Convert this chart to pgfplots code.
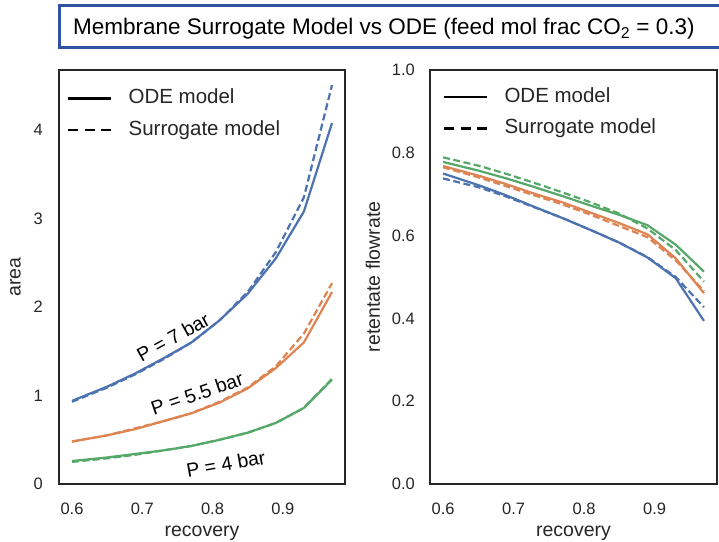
\documentclass[border=0pt]{standalone}
\usepackage{pgfplots}
\pgfplotsset{compat=1.18}
\usepackage{fontspec}
\setmainfont{Liberation Sans}
\definecolor{sbblue}{RGB}{76,114,176}
\definecolor{sborange}{RGB}{221,132,82}
\definecolor{sbgreen}{RGB}{85,168,104}
\definecolor{titleblue}{RGB}{47,82,163}
\definecolor{framec}{RGB}{38,38,38}
\newcommand\tickfont{\fontsize{16.5}{19}\selectfont}
\newcommand\labfont{\fontsize{19.5}{23}\selectfont}
\newcommand\legfont{\fontsize{20.5}{24}\selectfont}
\newcommand\annfont{\fontsize{19.5}{23}\selectfont}
\newcommand\titlefont{\fontsize{22.5}{26}\selectfont}
\pgfplotsset{
  myaxis/.style={
    scale only axis, anchor=south west,
    height=414pt,
    xmin=0.5815, xmax=0.9885,
    xtick={0.6,0.7,0.8,0.9},
    axis line style={draw=framec, line width=1.4pt},
    tick style={draw=none},
    /pgf/number format/assume math mode=true,
    ticklabel style={font=\tickfont, text=framec},
    x tick label style={anchor=base, yshift=-30pt, /pgf/number format/.cd, fixed, fixed zerofill, precision=1, /tikz/.cd},
    y tick label style={anchor=east, inner sep=0pt},
    xlabel={recovery},
    every axis x label/.style={at={(axis description cs:0.5,-0.128)}, anchor=base, font=\labfont, text=framec},
    legend image code/.code={\draw[#1] (0pt,0pt) -- (43pt,0pt);},
    legend style={draw=none, fill=none, font=\legfont, text=framec, anchor=north west,
      inner sep=0pt, row sep=8pt,
      nodes={inner sep=2pt, text height=15pt, text depth=4.5pt},
      /tikz/every odd column/.append style={column sep=14pt}},
    legend cell align=left,
  },
  ode/.style={line width=2.2pt, solid},
  sur/.style={line width=2.2pt, dash pattern=on 7pt off 3.5pt},
  legsur/.style={line width=2.4pt, dash pattern=on 10pt off 6.5pt},
}
\pgfplotstableread{
x     bode bsur oode osur gode gsur
0.60  0.94 0.93 0.48 0.48 0.26 0.25
0.65  1.10 1.09 0.55 0.55 0.30 0.29
0.69  1.25 1.24 0.62 0.63 0.34 0.33
0.73  1.42 1.41 0.71 0.71 0.38 0.38
0.77  1.60 1.60 0.80 0.80 0.43 0.43
0.81  1.85 1.85 0.92 0.93 0.50 0.50
0.85  2.15 2.17 1.08 1.09 0.58 0.58
0.89  2.55 2.62 1.31 1.33 0.69 0.69
0.93  3.08 3.24 1.60 1.70 0.86 0.86
0.97  4.08 4.51 2.17 2.27 1.18 1.19
}\areatab
\pgfplotstableread{
x     bode  bsur  oode  osur  gode  gsur
0.60  0.750 0.738 0.768 0.765 0.778 0.789
0.65  0.722 0.717 0.745 0.741 0.757 0.769
0.69  0.697 0.694 0.724 0.719 0.738 0.749
0.73  0.669 0.668 0.701 0.697 0.717 0.727
0.77  0.642 0.642 0.680 0.675 0.695 0.704
0.81  0.613 0.613 0.655 0.650 0.672 0.680
0.85  0.583 0.583 0.630 0.623 0.650 0.653
0.89  0.547 0.548 0.603 0.596 0.625 0.617
0.93  0.497 0.500 0.545 0.540 0.578 0.565
0.97  0.394 0.427 0.461 0.466 0.513 0.489
}\flowtab
\begin{document}
\begin{tikzpicture}
\useasboundingbox (0pt,0pt) rectangle (719pt,541pt);
% title box
\draw[titleblue, line width=3.3pt] (59.3pt,535.3pt) rectangle (760pt,493.7pt);
\node[anchor=base west, inner sep=0pt, font=\titlefont, text=black] at (73pt,506.7pt)
  {Membrane Surrogate Model vs ODE (feed mol frac CO\textsubscript{2} = 0.3)};
% left axis
\begin{axis}[myaxis, at={(59pt,57pt)}, width=286pt,
  ymin=0, ymax=4.68, ytick={0,1,2,3,4},
  y tick label style={xshift=-16pt},
  ylabel={area},
  every axis y label/.style={at={(axis description cs:-0.152,0.5)}, rotate=90, anchor=center, font=\labfont, text=framec},
  legend style={at={(axis description cs:0.028,0.96)}},
]
\addlegendimage{black, line width=2.4pt, solid}\addlegendentry{ODE model}
\addlegendimage{black, legsur}\addlegendentry{Surrogate model}
\addplot[sbblue, ode, forget plot] table[x=x, y=bode] {\areatab};
\addplot[sbblue, sur, forget plot] table[x=x, y=bsur] {\areatab};
\addplot[sborange, ode, forget plot] table[x=x, y=oode] {\areatab};
\addplot[sborange, sur, forget plot] table[x=x, y=osur] {\areatab};
\addplot[sbgreen, ode, forget plot] table[x=x, y=gode] {\areatab};
\addplot[sbgreen, sur, forget plot] table[x=x, y=gsur] {\areatab};
\node[rotate=29, font=\annfont, text=black, inner sep=0pt] at (axis cs:0.744,1.66) {P = 7 bar};
\node[rotate=19, font=\annfont, text=black, inner sep=0pt] at (axis cs:0.778,1.02) {P = 5.5 bar};
\node[rotate=10, font=\annfont, text=black, inner sep=0pt] at (axis cs:0.819,0.226) {P = 4 bar};
\end{axis}
% right axis
\begin{axis}[myaxis, at={(430pt,57pt)}, width=287pt,
  ymin=0, ymax=1, ytick={0,0.2,0.4,0.6,0.8,1.0},
  y tick label style={xshift=-15pt, /pgf/number format/.cd, fixed, fixed zerofill, precision=1, /tikz/.cd},
  ylabel={retentate flowrate},
  every axis y label/.style={at={(axis description cs:-0.199,0.5)}, rotate=90, anchor=center, font=\labfont, text=framec},
  legend style={at={(axis description cs:0.045,0.964)}},
]
\addlegendimage{black, line width=2.4pt, solid}\addlegendentry{ODE model}
\addlegendimage{black, legsur}\addlegendentry{Surrogate model}
\addplot[sbblue, ode, forget plot] table[x=x, y=bode] {\flowtab};
\addplot[sbblue, sur, forget plot] table[x=x, y=bsur] {\flowtab};
\addplot[sborange, ode, forget plot] table[x=x, y=oode] {\flowtab};
\addplot[sborange, sur, forget plot] table[x=x, y=osur] {\flowtab};
\addplot[sbgreen, ode, forget plot] table[x=x, y=gode] {\flowtab};
\addplot[sbgreen, sur, forget plot] table[x=x, y=gsur] {\flowtab};
\end{axis}
\end{tikzpicture}
\end{document}
